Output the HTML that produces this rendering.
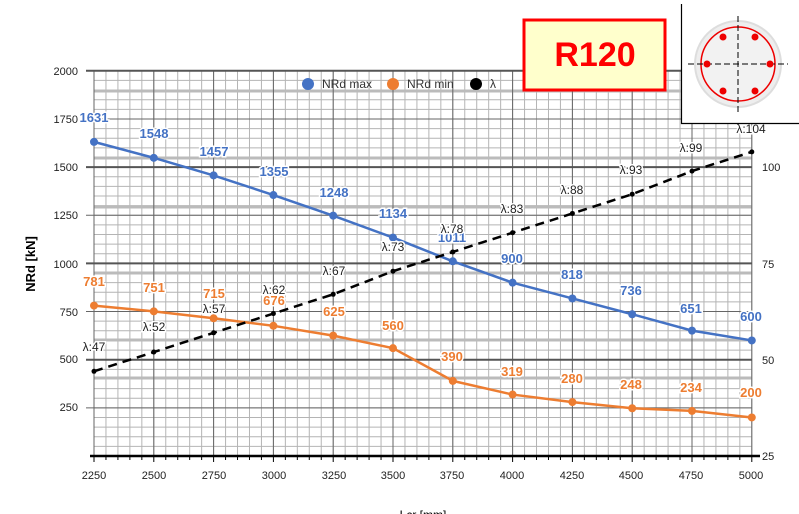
<!DOCTYPE html>
<html><head><meta charset="utf-8"><style>
body{margin:0;background:#fff;width:799px;height:514px;overflow:hidden}
svg{display:block;font-family:"Liberation Sans",sans-serif}
.lb{font-weight:bold;font-size:13px;text-anchor:middle;paint-order:stroke;stroke:#fff;stroke-width:3px}
.ll{font-size:12px;fill:#222;text-anchor:middle;paint-order:stroke;stroke:#fff;stroke-width:3px}
.ax{font-size:11px;fill:#222}
</style></head><body>
<svg width="799" height="514" viewBox="0 0 799 514">
<g id="grid"></g>
<g stroke="#bbb" stroke-width="3">
<line x1="94" x2="752" y1="91" y2="91"/><line x1="94" x2="752" y1="158" y2="158"/>
<line x1="94" x2="752" y1="207" y2="207"/><line x1="94" x2="752" y1="273" y2="273"/>
<line x1="94" x2="752" y1="340" y2="340"/><line x1="94" x2="752" y1="378" y2="378"/>
</g>
<g id="major"></g>
<line x1="90" x2="760" y1="456" y2="456" stroke="#000" stroke-width="2.5"/>
<g class="ax" text-anchor="end">
<text x="78" y="75">2000</text><text x="78" y="123">1750</text><text x="78" y="171">1500</text>
<text x="78" y="219">1250</text><text x="78" y="268">1000</text><text x="78" y="316">750</text>
<text x="78" y="363">500</text><text x="78" y="411">250</text>
</g>
<g class="ax">
<text x="762" y="171">100</text><text x="762" y="268">75</text><text x="762" y="364">50</text><text x="762" y="460">25</text>
</g>
<g class="ax" text-anchor="middle">
<text x="94" y="479">2250</text><text x="154" y="479">2500</text><text x="214" y="479">2750</text>
<text x="274" y="479">3000</text><text x="334" y="479">3250</text><text x="393" y="479">3500</text>
<text x="452" y="479">3750</text><text x="512" y="479">4000</text><text x="572" y="479">4250</text>
<text x="631" y="479">4500</text><text x="691" y="479">4750</text><text x="751" y="479">5000</text>
</g>
<text x="423" y="519" text-anchor="middle" font-size="12">Lcr [mm]</text>
<text transform="translate(35,264) rotate(-90)" text-anchor="middle" font-size="13" font-weight="bold">NRd [kN]</text>
<g id="series"></g>
<g class="lb" fill="#4472c4">
<text x="94" y="122">1631</text><text x="154" y="138">1548</text><text x="214" y="156">1457</text>
<text x="274" y="176">1355</text><text x="334" y="197">1248</text><text x="393" y="218">1134</text>
<text x="452" y="242">1011</text><text x="512" y="263">900</text><text x="572" y="279">818</text>
<text x="631" y="295">736</text><text x="691" y="313">651</text><text x="751" y="321">600</text>
</g>
<g class="lb" fill="#ed7d31">
<text x="94" y="286">781</text><text x="154" y="292">751</text><text x="214" y="298">715</text>
<text x="274" y="305">676</text><text x="334" y="316">625</text><text x="393" y="330">560</text>
<text x="452" y="361">390</text><text x="512" y="376">319</text><text x="572" y="383">280</text>
<text x="631" y="389">248</text><text x="691" y="392">234</text><text x="751" y="397">200</text>
</g>
<g class="ll">
<text x="94" y="351">λ:47</text><text x="154" y="331">λ:52</text><text x="214" y="313">λ:57</text>
<text x="274" y="294">λ:62</text><text x="334" y="275">λ:67</text><text x="393" y="251">λ:73</text>
<text x="452" y="233">λ:78</text><text x="512" y="213">λ:83</text><text x="572" y="194">λ:88</text>
<text x="631" y="174">λ:93</text><text x="691" y="152">λ:99</text><text x="751" y="133">λ:104</text>
</g>
<g font-size="12" fill="#333">
<circle cx="308" cy="84" r="6" fill="#4472c4"/><text x="322" y="88">NRd max</text>
<circle cx="393" cy="84" r="6" fill="#ed7d31"/><text x="407" y="88">NRd min</text>
<circle cx="476" cy="84" r="6" fill="#000"/><text x="490" y="88">λ</text>
</g>
<rect x="524" y="20" width="141" height="70" fill="#ffffcc" stroke="#f00" stroke-width="3"/>
<text x="595" y="66" text-anchor="middle" font-size="34" font-weight="bold" fill="#f00">R120</text>
<rect x="681" y="4" width="118" height="119" fill="#fff"/>
<path d="M681.5 4V123.5H799" fill="none" stroke="#000" stroke-width="1.2"/>
<circle cx="738" cy="64" r="43" fill="#eee" stroke="#ddd" stroke-width="2"/>
<circle cx="738" cy="64" r="37" fill="#f2f2f2" stroke="#e00" stroke-width="1.5"/>
<g stroke="#000" stroke-dasharray="6,3" stroke-width="1"><line x1="688" x2="788" y1="64" y2="64"/><line x1="738" x2="738" y1="16" y2="113"/></g>
<g fill="#e00"><circle cx="723" cy="37" r="3.5"/><circle cx="755" cy="37" r="3.5"/><circle cx="707" cy="64" r="3.5"/><circle cx="770" cy="64" r="3.5"/><circle cx="723" cy="91" r="3.5"/><circle cx="755" cy="91" r="3.5"/></g>
</svg>
<script>
const ns="http://www.w3.org/2000/svg";
function L(g,x1,y1,x2,y2,c,w,d){const l=document.createElementNS(ns,"line");l.setAttribute("x1",x1);l.setAttribute("y1",y1);l.setAttribute("x2",x2);l.setAttribute("y2",y2);l.setAttribute("stroke",c);l.setAttribute("stroke-width",w);if(d)l.setAttribute("stroke-dasharray",d);g.appendChild(l);}
const g=document.getElementById("grid"),m=document.getElementById("major");
const X=v=>94+(v-2250)/250*59.8, Y=v=>456-v*0.1926, R=v=>456-(v-25)*3.85;
for(let i=0;i<=55;i++){const x=94+i*59.8/5;L(g,x,71,x,456,"#b4b4b4",1);L(m,x,456,x,i%5?460:462,"#000",1);}
for(let i=0;i<=40;i++){const y=456-i*9.63;L(g,94,y,752,y,"#b4b4b4",1);}
for(let i=0;i<=11;i++){const x=X(2250+i*250);L(m,x,71,x,456,"#666",1);}
for(let i=1;i<=8;i++){const y=Y(i*250);L(m,86,y,752,y,i%2?"#666":"#555",i%2?1:2);}
const s=document.getElementById("series");
const xs=[2250,2500,2750,3000,3250,3500,3750,4000,4250,4500,4750,5000];
const mx=[1631,1548,1457,1355,1248,1134,1011,900,818,736,651,600];
const mn=[781,751,715,676,625,560,390,319,280,248,234,200];
const la=[47,52,57,62,67,73,78,83,88,93,99,104];
function ser(vals,f,c,w,r,d){const p=document.createElementNS(ns,"polyline");p.setAttribute("points",vals.map((v,i)=>X(xs[i])+","+f(v)).join(" "));p.setAttribute("fill","none");p.setAttribute("stroke",c);p.setAttribute("stroke-width",w);if(d)p.setAttribute("stroke-dasharray",d);s.appendChild(p);
vals.forEach((v,i)=>{const k=document.createElementNS(ns,"circle");k.setAttribute("cx",X(xs[i]));k.setAttribute("cy",f(v));k.setAttribute("r",r);k.setAttribute("fill",c);s.appendChild(k);});}
ser(mx,Y,"#4472c4",2.5,4);ser(mn,Y,"#ed7d31",2.5,4);ser(la,R,"#000",2.5,2.5,"9,6");
</script>
</body></html>
